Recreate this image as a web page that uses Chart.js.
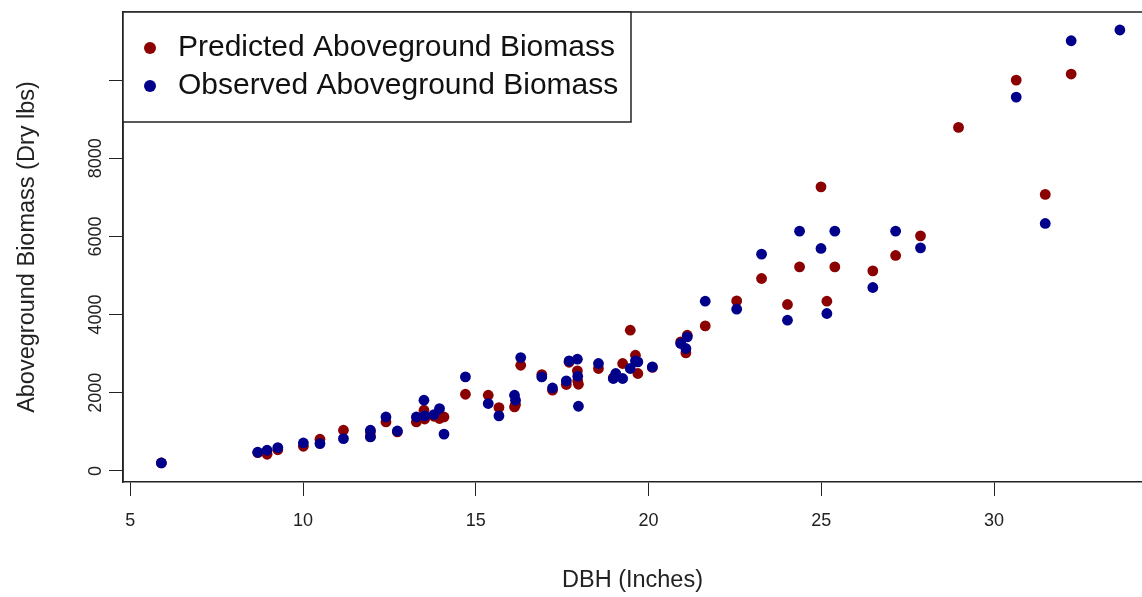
<!DOCTYPE html>
<html><head><meta charset="utf-8">
<script src="https://cdn.jsdelivr.net/npm/chart.js@4.4.0/dist/chart.umd.min.js"></script>
<style>html,body{margin:0;padding:0;background:#fff;overflow:hidden}#wrap{width:1142px;height:597px}</style>
</head><body><div id="wrap"><canvas id="c" width="1142" height="597"></canvas></div>
<script>
// DBH (inches) of each tree
const dbh = [5.9, 8.69, 8.96, 9.27, 10.01, 10.49, 11.17, 11.95, 11.95, 12.40,
  12.73, 13.28, 13.50, 13.52, 13.79, 13.95, 14.08, 14.70, 15.36, 15.67,
  16.12, 16.15, 16.30, 16.91, 17.22, 17.62, 17.70, 17.94, 17.95, 17.97,
  18.55, 18.98, 19.05, 19.25, 19.47, 19.62, 19.69, 20.11, 20.93, 21.08,
  21.12, 21.64, 22.55, 23.27, 24.02, 24.37, 24.99, 25.16, 25.39, 26.49,
  27.15, 27.87, 28.97, 30.64, 31.48, 32.23, 33.64];
// Predicted aboveground biomass (dry lbs)
const predicted = [205, 470, 427, 543, 632, 811, 1042, 1000, 880, 1254,
  1000, 1254, 1554, 1330, 1400, 1341, 1382, 1963, 1938, 1623,
  1638, 1700, 2705, 2467, 2066, 2211, 2780, 2560, 2304, 2219,
  2621, 2380, 2450, 2749, 3601, 2961, 2493, 2650, 3302, 3020,
  3473, 3711, 4351, 4924, 4259, 5221, 7269, 4343, 5221, 5119,
  5513, 6015, 8789, 10000, 7075, 10154, null];
// Observed aboveground biomass (dry lbs)
const observed = [205, 479, 530, 599, 717, 701, 829, 1042, 870, 1382,
  1024, 1382, 1810, 1408, 1444, 1597, 943, 2406, 1725, 1408,
  1938, 1810, 2902, 2406, 2124, 2304, 2815, 2859, 2424, 1656,
  2749, 2365, 2493, 2365, 2621, 2815, 2790, 2662, 3261, 3133,
  3430, 4343, 4139, 5546, 3857, 6135, 5692, 4029, 6135, 4694,
  6135, 5708, null, 9565, 6332, 11006, 11280];
const seriesNames = ['Predicted Aboveground Biomass', 'Observed Aboveground Biomass'];
const xTickValues = [5, 10, 15, 20, 25, 30];
const yTickValues = [0, 2000, 4000, 6000, 8000, 10000];
const yTickLabels = ['0', '2000', '4000', '6000', '8000', ''];

const FONT = '"Liberation Sans", Arial, sans-serif';
const INK = '#222';

const toPoints = (ys) => dbh.map((x, i) => ({x: x, y: ys[i]})).filter(p => p.y !== null);

const frame = {
  id: 'frame',
  afterDraw(chart) {
    const {ctx, chartArea: a} = chart;
    ctx.save();
    ctx.strokeStyle = INK;
    ctx.lineWidth = 1.5;
    ctx.beginPath();
    ctx.moveTo(a.left, a.bottom);
    ctx.lineTo(a.left, a.top);
    ctx.lineTo(a.right, a.top);
    ctx.stroke();
    // legend
    const lx = a.left, ly = a.top, lw = 508, lh = 110;
    ctx.fillStyle = '#fff';
    ctx.fillRect(lx, ly, lw, lh);
    ctx.strokeRect(lx, ly, lw, lh);
    ctx.font = '30px ' + FONT;
    ctx.textBaseline = 'middle';
    chart.data.datasets.forEach((ds, i) => {
      const cy = ly + 36 + i * 38;
      ctx.fillStyle = ds.backgroundColor;
      ctx.beginPath();
      ctx.arc(lx + 27, cy, 6, 0, Math.PI * 2);
      ctx.fill();
      ctx.fillStyle = '#111';
      ctx.textAlign = 'left';
      ctx.fillText(ds.label, lx + 55, cy);
    });
    ctx.restore();
  }
};

new Chart(document.getElementById('c'), {
  type: 'scatter',
  data: {
    datasets: [
      {label: seriesNames[0], data: toPoints(predicted), backgroundColor: '#8B0000', borderColor: '#8B0000',
       pointRadius: 5.4, borderWidth: 0, order: 2},
      {label: seriesNames[1], data: toPoints(observed), backgroundColor: '#00008B', borderColor: '#00008B',
       pointRadius: 5.4, borderWidth: 0, order: 1}
    ]
  },
  options: {
    responsive: false,
    animation: false,
    layout: {padding: {top: 12, left: 0, right: 0, bottom: 0}, autoPadding: false},
    plugins: {legend: {display: false}, tooltip: {enabled: false}},
    scales: {
      x: {
        type: 'linear', min: 4.79, max: 34.28,
        afterBuildTicks: s => { s.ticks = xTickValues.map(v => ({value: v})); },
        afterFit: s => { s.height = 115; },
        ticks: {font: {family: FONT, size: 18}, color: INK, padding: 14, autoSkip: false, maxRotation: 0},
        grid: {drawOnChartArea: false, drawTicks: true, tickLength: 14, color: INK, lineWidth: 1},
        border: {color: INK, width: 1.5},
        title: {display: true, text: 'DBH (Inches)', font: {family: FONT, size: 23.5}, color: INK, padding: {top: 0, bottom: 2}}
      },
      y: {
        type: 'linear', min: -282, max: 11741,
        afterBuildTicks: s => { s.ticks = yTickValues.map(v => ({value: v})); },
        afterFit: s => { s.width = 123; },
        ticks: {font: {family: FONT, size: 18}, color: INK, padding: -7, autoSkip: false,
                minRotation: 90, maxRotation: 90, crossAlign: 'center',
                callback: (v) => { const i = yTickValues.indexOf(v); return i >= 0 ? yTickLabels[i] : ''; }},
        grid: {drawOnChartArea: false, drawTicks: true, tickLength: 14, color: INK, lineWidth: 1},
        border: {color: INK, width: 1.5},
        title: {display: true, text: 'Aboveground Biomass (Dry lbs)', font: {family: FONT, size: 23.5}, color: INK, padding: {top: 13, bottom: 0}}
      }
    }
  },
  plugins: [frame]
});
</script></body></html>
